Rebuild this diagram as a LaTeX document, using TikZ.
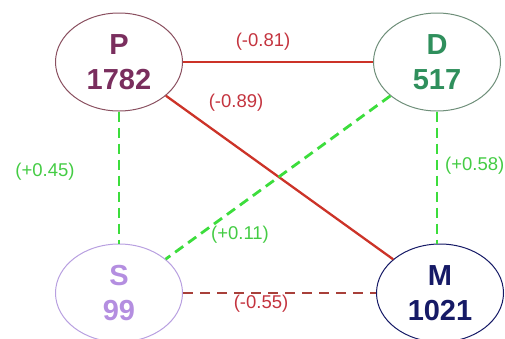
\documentclass[tikz,border=0pt]{standalone}
\usepackage{fontspec}
\setmainfont{Liberation Sans}
\usetikzlibrary{shapes.geometric}
\definecolor{pcol}{HTML}{7A2E5E}
\definecolor{pbord}{HTML}{8A5060}
\definecolor{dcol}{HTML}{2F8F5C}
\definecolor{dbord}{HTML}{6F8F7A}
\definecolor{scol}{HTML}{B48EE0}
\definecolor{sbord}{HTML}{B8A0E0}
\definecolor{mcol}{HTML}{161A66}
\definecolor{redline}{HTML}{CC3328}
\definecolor{brownline}{HTML}{A8403A}
\definecolor{greenline}{HTML}{3CDD3C}
\definecolor{redlab}{HTML}{C4343F}
\definecolor{greenlab}{HTML}{44CC44}
\tikzset{
  entity/.style={ellipse, draw, line width=1pt, minimum width=127pt, minimum height=98pt,
    align=center, inner sep=0pt, font=\fontsize{29}{35}\selectfont\bfseries},
  neg/.style={draw=redline, line width=2.3pt},
  negdash/.style={draw=brownline, line width=2.6pt, dash pattern=on 10pt off 7pt},
  posdash/.style={draw=greenline, line width=2.8pt, dash pattern=on 10pt off 6pt},
  rlab/.style={text=redlab, font=\fontsize{18.5}{22}\selectfont, inner sep=0pt},
  glab/.style={text=greenlab, font=\fontsize{18.5}{22}\selectfont, inner sep=0pt}
}
\begin{document}
\begin{tikzpicture}[x=1pt,y=-1pt]
\useasboundingbox (0,0) rectangle (505,338);
\node[entity, draw=pbord, text=pcol] (P) at (119,62) {P\\1782};
\node[entity, draw=dbord, text=dcol] (D) at (437,62) {D\\517};
\node[entity, draw=sbord, text=scol] (S) at (119,293) {S\\99};
\node[entity, draw=mcol, text=mcol] (M) at (440,293) {M\\1021};
\draw[neg] (P) -- (D);
\draw[neg] (P) -- (M);
\draw[posdash] (P) -- (S);
\draw[posdash] (D) -- (D |- M.north);
\draw[posdash] (D) -- (S);
\draw[negdash] (S) -- (M);
\node[rlab] (l1) at (263,42) {(-0.81)};
\node[rlab] (l2) at (236,103) {(-0.89)};
\node[glab] (l3) at (45,172) {(+0.45)};
\node[glab, anchor=west] (l4) at (445,166) {(+0.58)};
\node[glab] (l5) at (240,235) {(+0.11)};
\node[rlab] (l6) at (261,304) {(-0.55)};
\end{tikzpicture}
\end{document}
